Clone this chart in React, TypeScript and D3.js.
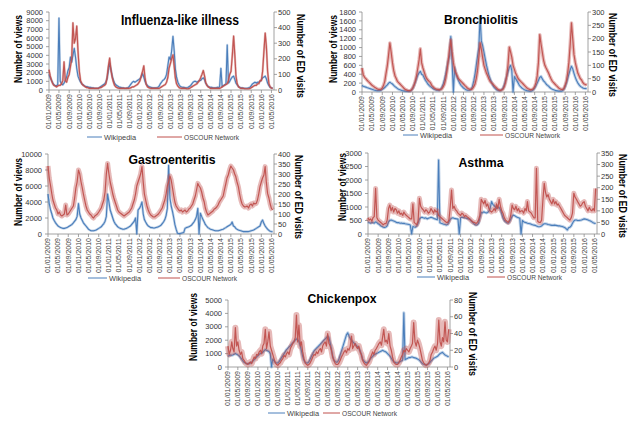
import React from 'react';
import * as d3 from 'd3';

const TICK_LABELS = [
  '01/01/2009','01/05/2009','01/09/2009','01/01/2010','01/05/2010','01/09/2010',
  '01/01/2011','01/05/2011','01/09/2011','01/01/2012','01/05/2012','01/09/2012',
  '01/01/2013','01/05/2013','01/09/2013','01/01/2014','01/05/2014','01/09/2014',
  '01/01/2015','01/05/2015','01/09/2015','01/01/2016','01/05/2016'
];
const SERIES_NAMES = ['Wikipedia', 'OSCOUR Network'];

// half-monthly values (1st and 16th of each month), Jan 2009 .. May 2016
const fluViews = [
  1800,1400,1100,800,600,500,500,600,8300,1000,700,600,800,1100,1500,2200,2600,3800,3200,4000,4800,3800,2500,1600,
  1200,900,700,600,500,400,400,350,300,300,250,250,200,200,200,200,300,400,500,600,700,900,1300,2200,
  3100,2400,1600,1100,800,600,500,400,300,300,250,250,200,200,250,300,500,700,900,1000,900,1000,1100,1200,
  1300,1500,1900,1500,1000,700,500,400,350,300,250,250,250,250,300,400,700,900,1100,1200,1400,1800,2800,3800,
  3500,4500,6200,4500,2500,1500,900,600,400,350,300,300,250,250,300,400,500,700,900,1000,1000,900,1000,1100,
  1100,1300,1400,1200,800,600,400,350,300,300,250,250,250,300,300,350,2500,400,500,600,700,5200,800,1000,
  1300,1500,1600,1200,800,600,400,300,250,250,200,200,200,200,250,300,500,700,800,900,800,900,900,1000,
  1200,1400,1500,1600,1300,800,500,300,250,200
];
const fluED = [
  130,90,60,40,30,25,20,25,30,30,40,60,180,60,50,80,100,150,200,430,300,330,410,250,
  120,60,40,30,25,20,15,15,10,10,10,10,10,10,10,10,15,15,20,25,30,40,80,150,
  205,130,80,50,30,20,15,12,10,10,10,10,10,10,10,10,12,15,20,20,25,30,35,45,
  60,90,120,155,80,35,20,15,12,10,10,10,10,10,10,10,15,20,25,30,35,50,80,140,
  170,200,225,150,80,40,25,15,12,10,10,10,10,8,8,10,15,20,25,30,35,40,50,60,
  80,100,125,90,50,30,20,15,10,10,10,10,10,10,10,10,15,20,25,30,35,40,60,100,
  120,220,345,220,90,40,20,15,10,10,10,8,8,8,8,10,15,20,25,30,30,40,40,60,
  60,120,250,365,280,120,40,20,12,10
];
const bronchViews = [
  150,130,120,110,100,90,80,70,60,50,40,35,30,30,30,40,60,80,100,130,160,200,220,200,
  180,150,120,100,80,60,50,40,30,25,20,15,15,15,20,40,80,150,220,300,380,430,465,400,
  380,320,260,220,180,150,120,100,80,60,50,40,40,40,60,100,180,280,400,550,700,800,1250,700,
  0,550,400,330,260,200,150,120,90,70,50,40,40,40,60,120,250,400,600,800,1000,1700,1150,1050,
  900,750,600,480,380,300,220,160,110,80,50,40,30,30,50,80,150,250,350,450,550,600,480,0,
  350,300,250,200,150,120,90,70,50,40,30,25,20,20,30,50,90,140,200,260,330,350,300,250,
  220,180,150,130,100,80,60,50,40,30,25,20,20,20,30,60,120,200,300,400,500,580,520,420,
  330,260,200,160,130,110,90,80,80,70
];
const bronchED = [
  90,65,55,50,45,40,35,30,25,22,18,15,12,10,10,10,15,25,40,70,100,140,184,150,
  110,80,60,50,40,35,30,25,20,15,10,8,6,5,5,8,15,25,40,60,90,120,162,110,
  90,75,60,50,45,40,35,25,20,15,12,10,10,8,10,12,20,30,50,80,120,160,196,150,
  110,85,70,60,50,45,40,35,30,25,20,15,12,10,10,12,20,30,50,80,130,184,160,130,
  100,85,70,60,50,40,35,30,25,20,15,10,8,6,8,10,20,35,60,100,168,150,130,100,
  85,70,60,50,45,40,35,30,25,20,15,12,10,8,10,12,20,35,60,110,215,180,150,120,
  100,90,80,70,60,50,40,35,30,25,20,15,12,10,10,12,25,40,70,110,180,259,200,140,
  110,90,70,60,50,45,35,30,28,25
];
const gastroViews = [
  5000,3800,3000,2500,2000,1700,1400,1200,1000,900,800,750,700,700,750,800,900,1000,1100,1200,1400,1600,1800,2200,
  3800,2500,2000,1700,1400,1200,1000,800,600,500,400,400,400,450,500,600,700,800,900,1100,1300,1600,2200,5000,
  4000,3000,2500,2000,1600,1300,1100,900,800,700,650,600,600,650,700,800,900,1000,1200,1400,1600,2000,0,3000,
  3200,3500,4000,2500,1800,1500,1200,1000,900,800,800,750,750,800,850,900,1000,1100,1300,1500,1800,2300,3200,8600,
  4500,3500,2800,2000,1200,600,100,50,50,100,150,200,700,800,850,900,1000,1100,1300,1500,1800,2200,3200,0,
  2600,2200,1800,1500,1200,1000,800,700,600,550,500,450,400,400,400,450,500,550,600,700,800,900,1000,1100,
  1200,1500,1000,900,700,600,500,450,400,350,300,300,300,300,300,350,400,450,500,600,700,800,900,1000,
  1500,1750,1300,1000,800,600,450,350,300,280
];
const gastroED = [
  340,280,240,200,170,150,130,120,100,110,95,90,95,100,145,95,100,110,120,130,140,180,230,260,
  320,300,260,230,200,170,140,120,110,100,95,85,80,90,95,100,110,120,130,150,170,210,300,353,
  300,260,230,200,180,160,140,120,110,105,100,95,90,95,100,105,110,120,130,150,170,200,240,260,
  280,300,337,260,200,170,140,120,105,95,90,85,85,90,95,100,110,120,130,150,170,200,240,260,
  290,270,230,190,160,140,130,120,115,120,110,115,120,110,115,125,130,140,150,170,190,220,253,240,
  230,210,180,160,130,110,95,100,105,110,115,125,128,135,145,160,170,180,190,220,250,280,295,320,
  340,330,320,300,287,260,237,200,170,150,140,135,137,140,130,145,150,140,155,150,153,170,200,237,
  260,280,295,337,260,203,180,150,128,120
];
const asthmaViews = [
  450,420,400,430,420,400,450,420,380,350,300,280,250,240,260,300,450,500,520,500,480,460,430,420,
  420,400,410,390,400,380,370,360,350,330,0,280,260,250,300,400,550,600,620,600,580,600,560,580,
  600,620,600,580,560,550,530,2740,420,400,380,360,350,330,350,450,550,580,600,580,570,560,550,0,
  600,620,610,600,590,580,560,550,500,450,400,350,330,340,400,600,800,780,820,800,780,800,850,950,
  1200,1100,1050,1000,950,1000,980,900,750,600,500,450,420,400,450,550,650,700,680,650,620,600,580,0,
  500,450,430,420,400,390,380,360,340,330,320,300,280,270,280,300,350,380,380,370,350,340,330,320,
  320,330,320,310,300,300,290,280,260,240,200,150,230,250,300,400,480,520,520,500,500,510,520,540,
  560,550,540,520,500,480,450,420,400,380
];
const asthmaED = [
  70,60,65,55,70,75,197,70,60,55,50,45,40,45,45,60,110,125,100,115,95,110,105,90,
  100,85,90,80,95,85,80,75,70,65,65,130,50,45,40,55,154,120,110,105,95,105,100,90,
  95,110,100,90,105,95,100,80,75,70,65,60,55,50,50,60,120,190,110,120,105,100,90,85,
  80,90,85,75,80,75,70,65,60,55,50,50,45,50,60,80,150,140,130,145,120,130,110,100,
  95,100,110,100,130,110,150,120,100,90,70,60,55,50,60,80,125,110,105,120,100,110,95,100,
  100,90,110,100,140,100,95,90,80,70,70,284,55,50,50,60,150,219,180,160,170,150,140,130,
  150,130,140,125,130,120,110,100,90,80,75,70,65,60,70,90,176,160,150,140,130,120,125,135,
  140,120,110,100,115,105,100,110,100,197
];
const poxViews = [
  800,850,900,880,900,950,1000,950,900,850,700,600,450,350,300,250,250,250,300,350,450,550,650,750,
  850,950,1000,1050,1100,1200,1300,1250,1200,1150,1000,0,600,450,350,300,300,400,550,700,850,1000,1150,1300,
  1400,1500,1600,1700,1800,1900,2000,2100,2050,1900,1600,1200,800,500,350,300,300,400,600,800,1000,1200,1300,1400,
  1500,1600,1700,1800,1900,2000,2100,2200,2300,2200,1800,1300,800,500,400,350,400,600,900,1200,1500,1800,2100,2400,
  2550,2300,2100,2000,1900,1800,1700,1600,1500,1400,1200,900,600,450,350,300,350,450,600,700,800,900,950,1000,
  1050,1100,1150,1200,1250,1200,1150,1100,1000,900,800,650,500,400,350,300,300,350,400,450,500,4050,550,600,
  650,700,700,750,750,700,680,650,600,550,450,350,250,200,180,150,200,250,350,450,550,650,700,750,
  800,900,1000,1050,1100,1000,900,850,800,750
];
const poxED = [
  25,15,20,30,22,18,47,25,30,20,15,18,10,8,5,4,3,5,6,4,8,12,10,15,
  14,18,20,16,25,28,45,22,30,42,25,20,15,10,5,3,2,4,5,8,10,14,12,16,
  18,15,22,25,28,30,35,62,30,50,25,30,18,10,5,3,2,3,5,8,12,15,14,18,
  16,20,22,18,25,28,30,25,40,28,25,20,12,8,4,3,3,5,8,12,15,18,20,17,
  22,20,25,37,22,25,28,24,22,25,18,15,8,5,3,2,4,6,10,14,18,15,20,22,
  25,28,30,26,35,45,30,32,28,40,25,20,12,6,4,3,3,5,8,12,15,20,18,22,
  20,18,22,25,28,53,30,25,32,28,22,15,8,5,3,2,3,5,8,15,18,22,25,20,
  28,56,30,25,35,30,54,32,30,45
];

const START = new Date(2009, 0, 1);
const END = new Date(2016, 5, 1);
const parseTick = d3.timeParse('%d/%m/%Y');
const TICK_DATES = TICK_LABELS.map(s => parseTick(s) as Date);

const BLUE = '#4a7ebb';
const RED = '#c0504d';
const AXIS = '#8c8c8c';
const FONT = '"Liberation Sans", Arial, sans-serif';

interface PanelDef {
  views: number[]; ed: number[];
  x0: number; x1: number; yT: number; yB: number;
  maxL: number; stepL: number; maxR: number; stepR: number;
  title: string; titleX: number; titleY: number; titleLen: number; titleSize: number;
  lTitleX: number; lTitleY: number; rTitleX: number; rTitleY: number;
  legY: number; leg: number[]; bandB: number; bandR: number;
}

const PANELS: PanelDef[] = [
  { views: fluViews, ed: fluED, x0: 49, x1: 274, yT: 12, yB: 90, maxL: 9000, stepL: 1000, maxR: 500, stepR: 100,
    title: 'Influenza-like illness', titleX: 180, titleY: 25, titleLen: 118, titleSize: 14,
    lTitleX: 18, lTitleY: 49, rTitleX: 300, rTitleY: 56, legY: 137, leg: [87, 102, 104, 157, 182, 184], bandB: 2.2, bandR: 2.2 },
  { views: bronchViews, ed: bronchED, x0: 362, x1: 588, yT: 12, yB: 92, maxL: 1800, stepL: 200, maxR: 300, stepR: 50,
    title: 'Bronchiolitis', titleX: 481, titleY: 24, titleLen: 74, titleSize: 12.5,
    lTitleX: 333, lTitleY: 49, rTitleX: 612, rTitleY: 55, legY: 135, leg: [403, 418, 420, 480, 503, 505], bandB: 3, bandR: 3.5 },
  { views: gastroViews, ed: gastroED, x0: 48, x1: 274, yT: 154, yB: 234, maxL: 10000, stepL: 2000, maxR: 400, stepR: 50,
    title: 'Gastroenteritis', titleX: 172, titleY: 164, titleLen: 87, titleSize: 12.5,
    lTitleX: 18, lTitleY: 192, rTitleX: 298, rTitleY: 197, legY: 278, leg: [88, 107, 109, 158, 180, 182], bandB: 2.5, bandR: 5 },
  { views: asthmaViews, ed: asthmaED, x0: 368, x1: 597, yT: 153, yB: 234, maxL: 3000, stepL: 500, maxR: 350, stepR: 50,
    title: 'Asthma', titleX: 481, titleY: 167, titleLen: 45, titleSize: 12.5,
    lTitleX: 342, lTitleY: 187, rTitleX: 622, rTitleY: 196, legY: 277, leg: [417, 435, 437, 487, 505, 507], bandB: 3, bandR: 5 },
  { views: poxViews, ed: poxED, x0: 228, x1: 450, yT: 300, yB: 367, maxL: 5000, stepL: 1000, maxR: 80, stepR: 20,
    title: 'Chickenpox', titleX: 342, titleY: 303, titleLen: 69, titleSize: 13,
    lTitleX: 193, lTitleY: 327, rTitleX: 472, rTitleY: 334, legY: 413, leg: [268, 285, 287, 323, 340, 342], bandB: 3, bandR: 6 },
];

function dateAt(i: number) {
  return new Date(2009, Math.floor(i / 2), i % 2 ? 16 : 1);
}

function Panel({ p }: { p: PanelDef }) {
  const x = d3.scaleTime().domain([START, END]).range([p.x0, p.x1]);
  const yL = d3.scaleLinear().domain([0, p.maxL]).range([p.yB, p.yT]);
  const yR = d3.scaleLinear().domain([0, p.maxR]).range([p.yB, p.yT]);
  const lineL = d3.line<number>().x((_, i) => x(dateAt(i))).y(d => yL(d));
  const lineR = d3.line<number>().x((_, i) => x(dateAt(i))).y(d => yR(d));
  const ticksL = d3.range(0, p.maxL + 1e-6, p.stepL);
  const ticksR = d3.range(0, p.maxR + 1e-6, p.stepR);
  const dB = lineL(p.views) || '';
  const dR = lineR(p.ed) || '';
  return (
    <g>
      {/* axes */}
      <line x1={p.x0} x2={p.x0} y1={p.yT} y2={p.yB} stroke={AXIS} strokeWidth={0.8} />
      <line x1={p.x1} x2={p.x1} y1={p.yT} y2={p.yB} stroke={AXIS} strokeWidth={0.8} />
      <line x1={p.x0} x2={p.x1} y1={p.yB} y2={p.yB} stroke={AXIS} strokeWidth={0.8} />
      {ticksL.map(t => (
        <g key={'l' + t}>
          <line x1={p.x0 - 3} x2={p.x0} y1={yL(t)} y2={yL(t)} stroke={AXIS} strokeWidth={0.8} />
          <text x={p.x0 - 6} y={yL(t)} dy="0.35em" textAnchor="end" fontSize={7.5} fill="#333">{t}</text>
        </g>
      ))}
      {ticksR.map(t => (
        <g key={'r' + t}>
          <line x1={p.x1} x2={p.x1 + 3} y1={yR(t)} y2={yR(t)} stroke={AXIS} strokeWidth={0.8} />
          <text x={p.x1 + 4} y={yR(t)} dy="0.35em" textAnchor="start" fontSize={7.5} fill="#333">{t}</text>
        </g>
      ))}
      {TICK_DATES.map((d, i) => (
        <g key={'x' + i}>
          <line x1={x(d)} x2={x(d)} y1={p.yB} y2={p.yB + 3} stroke={AXIS} strokeWidth={0.8} />
          <text transform={`translate(${x(d)},${p.yB + 4}) rotate(-90)`} dy="0.35em" textAnchor="end"
            fontSize={7} fill="#444">{TICK_LABELS[i]}</text>
        </g>
      ))}
      {/* series: a soft band for the daily noise, then the line */}
      <path d={dB} fill="none" stroke={BLUE} strokeWidth={p.bandB} strokeOpacity={0.35} strokeLinejoin="round" />
      <path d={dB} fill="none" stroke={BLUE} strokeWidth={1.1} strokeLinejoin="round" />
      <path d={dR} fill="none" stroke={RED} strokeWidth={p.bandR} strokeOpacity={0.4} strokeLinejoin="round" />
      <path d={dR} fill="none" stroke={RED} strokeWidth={1.2} strokeOpacity={0.95} strokeLinejoin="round" />
      {/* titles */}
      <text x={p.titleX} y={p.titleY} textAnchor="middle" fontWeight="bold" fontSize={p.titleSize}
        textLength={p.titleLen} lengthAdjust="spacingAndGlyphs" fill="#000">{p.title}</text>
      <text transform={`translate(${p.lTitleX + 3.5},${p.lTitleY}) rotate(-90)`} textAnchor="middle"
        fontWeight="bold" fontSize={10} textLength={68} lengthAdjust="spacingAndGlyphs" fill="#000">Number of views</text>
      <text transform={`translate(${p.rTitleX - 3.5},${p.rTitleY}) rotate(90)`} textAnchor="middle"
        fontWeight="bold" fontSize={10} textLength={84} lengthAdjust="spacingAndGlyphs" fill="#000">Number of ED visits</text>
      {/* legend */}
      <line x1={p.leg[0]} x2={p.leg[1]} y1={p.legY} y2={p.legY} stroke={BLUE} strokeWidth={1} />
      <text x={p.leg[2]} y={p.legY} dy="0.35em" fontSize={7.5} fill="#444" textLength={32} lengthAdjust="spacingAndGlyphs">{SERIES_NAMES[0]}</text>
      <line x1={p.leg[3]} x2={p.leg[4]} y1={p.legY} y2={p.legY} stroke={RED} strokeWidth={1} />
      <text x={p.leg[5]} y={p.legY} dy="0.35em" fontSize={7.5} fill="#444" textLength={55} lengthAdjust="spacingAndGlyphs">{SERIES_NAMES[1]}</text>
    </g>
  );
}

export default function App() {
  return (
    <svg width={632} height={423} style={{ position: 'absolute', left: 0, top: 0, background: '#fff' }}
      fontFamily={FONT}>
      <rect width={632} height={423} fill="#fff" />
      {PANELS.map((p, i) => <Panel key={i} p={p} />)}
    </svg>
  );
}
